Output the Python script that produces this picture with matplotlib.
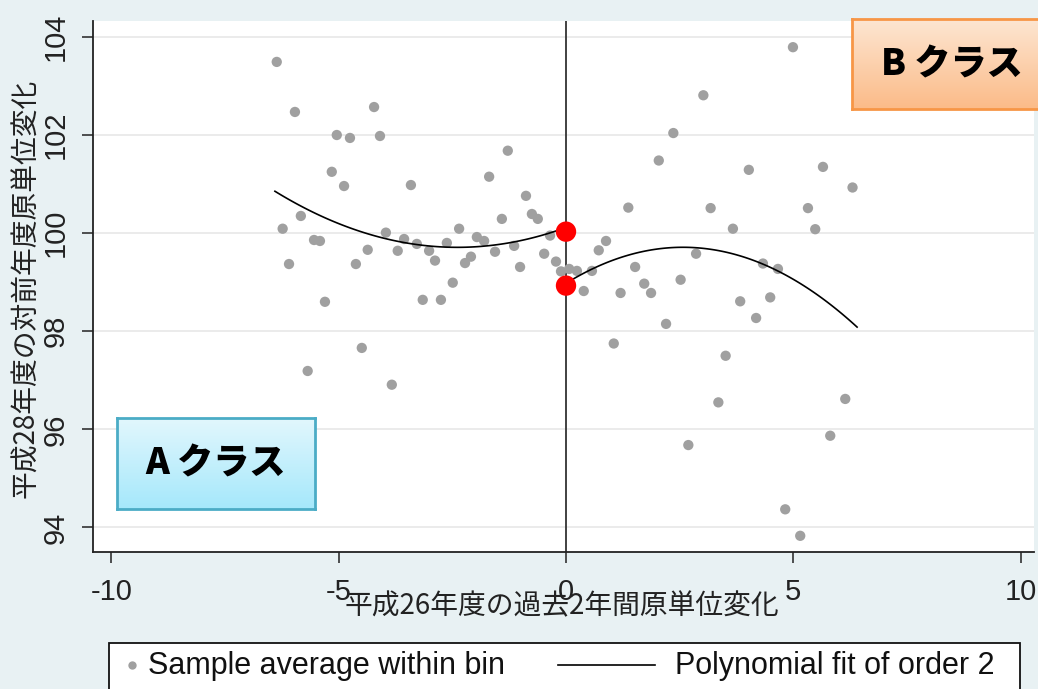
import matplotlib
matplotlib.use("Agg")
import matplotlib.pyplot as plt
import numpy as np
from matplotlib.colors import LinearSegmentedColormap
from matplotlib.patches import Rectangle
from matplotlib.lines import Line2D

# ---- data ----
left_x = [-6.36, -5.96, -4.22, -5.04, -4.75, -4.09, -1.28, -5.15, -4.88, -3.41,
          -1.69, -0.88, -5.83, -6.23, -1.41, -0.75, -0.62, -3.96, -2.35, -5.54,
          -5.41, -3.56, -3.28, -2.62, -1.96, -1.80, -0.35, -4.36, -3.70, -3.01,
          -1.14, -1.56, -0.48, -2.88, -2.09, -2.22, -1.01, -0.22, -6.09, -4.62,
          -2.49, -5.30, -3.15, -2.75, -4.49, -5.68, -3.83, -0.11]
left_y = [103.49, 102.47, 102.57, 102.00, 101.94, 101.98, 101.68, 101.25, 100.96, 100.98,
          101.15, 100.76, 100.35, 100.09, 100.29, 100.39, 100.29, 100.01, 100.09, 99.86,
          99.84, 99.88, 99.78, 99.80, 99.92, 99.84, 99.95, 99.66, 99.64, 99.64,
          99.74, 99.62, 99.58, 99.44, 99.52, 99.39, 99.31, 99.42, 99.37, 99.37,
          98.99, 98.60, 98.64, 98.64, 97.66, 97.19, 96.91, 99.22]

right_x = [4.99, 3.02, 2.36, 2.04, 4.02, 5.65, 6.30, 1.37, 3.18, 5.32,
           3.67, 5.48, 0.88, 0.72, 2.86, 1.52, 4.33, 4.66, 0.07, 0.24,
           0.57, 0.39, 1.20, 1.72, 1.87, 2.52, 3.83, 4.49, 4.18, 2.20,
           1.05, 3.51, 3.35, 6.14, 2.69, 5.81, 4.82, 5.15]
right_y = [103.79, 102.81, 102.04, 101.48, 101.29, 101.35, 100.93, 100.52, 100.51, 100.51,
           100.09, 100.08, 99.84, 99.65, 99.58, 99.31, 99.38, 99.27, 99.27, 99.23,
           99.23, 98.82, 98.78, 98.97, 98.78, 99.05, 98.61, 98.69, 98.27, 98.15,
           97.75, 97.50, 96.55, 96.62, 95.68, 95.87, 94.37, 93.83]

# order-2 polynomial fits (np.polyval order) and their ranges
fit_left_coef = [0.071, 0.339, 100.115]
fit_left_range = (-6.4, 0.0)
fit_right_coef = [-0.111, 0.571, 98.977]
fit_right_range = (0.0, 6.4)

cutoff_x = [0.0, 0.0]
cutoff_y = [100.03, 98.93]

x_ticks = [-10, -5, 0, 5, 10]
x_tick_labels = ["-10", "-5", "0", "5", "10"]
y_ticks = [94, 96, 98, 100, 102, 104]

W, H = 1038, 689
BG = "#e8f1f3"
JP = "Noto Sans CJK JP"
LAT = ["Liberation Sans Narrow", "Liberation Sans", "DejaVu Sans"]


def fx(px):
    return px / W


def fy(py):
    return 1 - py / H


fig = plt.figure(figsize=(W / 100, H / 100), dpi=100, facecolor=BG)
ax = fig.add_axes([fx(93), fy(552), fx(1034) - fx(93), fy(20.7) - fy(552)])
ax.set_facecolor("white")

ax.set_xlim(-10.40, 10.29)
ax.set_ylim(93.50, 104.33)

for y in y_ticks:
    ax.axhline(y, color="#ebebeb", lw=1.4, zorder=0)
ax.axvline(0, color="#333333", lw=1.3, zorder=1)

ax.scatter(left_x, left_y, s=55, color="#a0a0a0", edgecolors="none", zorder=2)
ax.scatter(right_x, right_y, s=55, color="#a0a0a0", edgecolors="none", zorder=2)

xl = np.linspace(*fit_left_range, 100)
xr = np.linspace(*fit_right_range, 100)
ax.plot(xl, np.polyval(fit_left_coef, xl), color="black", lw=1.2, zorder=3)
ax.plot(xr, np.polyval(fit_right_coef, xr), color="black", lw=1.2, zorder=3)

ax.scatter(cutoff_x, cutoff_y, s=215, color="#ff0000", edgecolors="none", zorder=4)

for side in ["top", "right"]:
    ax.spines[side].set_visible(False)
for side in ["left", "bottom"]:
    ax.spines[side].set_linewidth(1.3)
    ax.spines[side].set_color("#222222")

ax.set_xticks(x_ticks)
ax.set_xticklabels(x_tick_labels)
ax.set_yticks(y_ticks)
ax.set_yticklabels([str(v) for v in y_ticks], rotation=90, va="center")
ax.tick_params(axis="both", length=8, width=1.1, color="#222222", labelcolor="#222222")
ax.tick_params(axis="x", pad=11)
ax.tick_params(axis="y", pad=9)
for lab in ax.get_xticklabels() + ax.get_yticklabels():
    lab.set_family(LAT)
    lab.set_fontsize(21)

fig.text(fx(562), fy(606), "平成26年度の過去2年間原単位変化", family=JP,
         fontsize=20, ha="center", va="center", color="#222222")
fig.text(fx(26), fy(288), "平成28年度の対前年度原単位変化", family=JP,
         fontsize=20, ha="center", va="center", rotation=90, color="#222222")


def grad_box(px0, py0, px1, py1, top, bottom, edge, label):
    bx = fig.add_axes([fx(px0), fy(py1), fx(px1) - fx(px0), fy(py0) - fy(py1)])
    cmap = LinearSegmentedColormap.from_list("g", [bottom, top])
    bx.imshow(np.linspace(0, 1, 256).reshape(-1, 1), cmap=cmap, aspect="auto",
              extent=[0, 1, 0, 1], origin="lower")
    bx.set_xticks([])
    bx.set_yticks([])
    for s in bx.spines.values():
        s.set_color(edge)
        s.set_linewidth(2)
    bx.text(0.5, 0.5, label, transform=bx.transAxes, family=JP, fontweight="heavy",
            fontsize=26, ha="center", va="center", color="black")
    return bx


grad_box(117, 418, 315, 509, "#e2f7fd", "#a5e8fb", "#4bacc6", "A クラス")
grad_box(852, 19, 1052, 109, "#fde6d2", "#fbbb88", "#f79646", "B クラス")

# legend box (partly below the bottom edge, as in the original)
fig.patches.append(Rectangle((fx(109), fy(705)), fx(1020) - fx(109), fy(643) - fy(705),
                             transform=fig.transFigure, facecolor="white",
                             edgecolor="#111111", lw=1.3))
fig.lines.append(Line2D([fx(132)], [fy(665)], transform=fig.transFigure, marker="o",
                        markersize=6, color="#a0a0a0", markeredgewidth=0, linestyle="none"))
fig.text(fx(148), fy(666), "Sample average within bin", family=LAT, fontsize=22,
         ha="left", va="center", color="#111111")
fig.lines.append(Line2D([fx(558), fx(655)], [fy(665), fy(665)], transform=fig.transFigure,
                        color="black", lw=1.2))
fig.text(fx(675), fy(666), "Polynomial fit of order 2", family=LAT, fontsize=22,
         ha="left", va="center", color="#111111")

fig.savefig("out.png", dpi=100, facecolor=BG)
